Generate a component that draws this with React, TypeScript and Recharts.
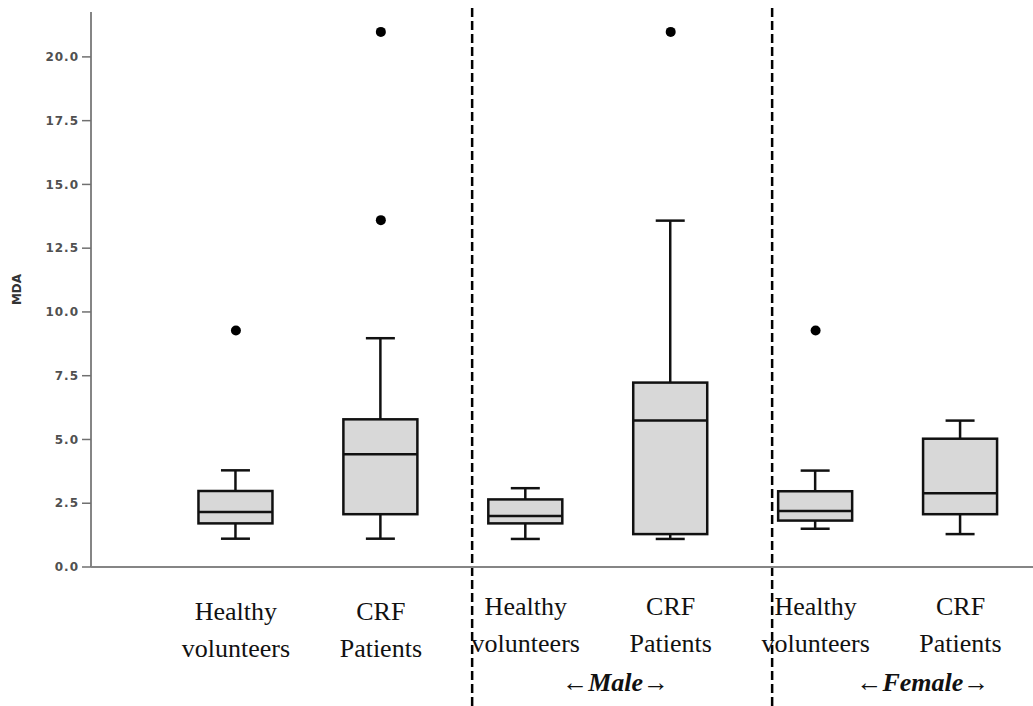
import React from "react";
import {
  ComposedChart,
  Bar,
  Scatter,
  XAxis,
  YAxis,
  ReferenceLine,
} from "recharts";

// box plot values (MDA)
const categories = [
  ["Healthy", "volunteers"],
  ["CRF", "Patients"],
  ["Healthy", "volunteers"],
  ["CRF", "Patients"],
  ["Healthy", "volunteers"],
  ["CRF", "Patients"],
];
const positions = [1, 2, 3, 4, 5, 6];
const whiskerLow = [1.11, 1.11, 1.1, 1.1, 1.5, 1.29];
const q1 = [1.71, 2.07, 1.71, 1.29, 1.82, 2.07];
const median = [2.16, 4.42, 2.0, 5.74, 2.2, 2.89];
const q3 = [2.98, 5.79, 2.65, 7.23, 2.97, 5.03];
const whiskerHigh = [3.79, 8.97, 3.09, 13.58, 3.78, 5.74];

const outlierPos = [1, 2, 2, 4, 5];
const outlierValue = [9.27, 20.98, 13.6, 20.98, 9.27];

const separators = [2.63, 4.7];
const groupNames = ["Male", "Female"];
const groupLabelPos = [3.62, 5.74];

const yTicks = [0, 2.5, 5, 7.5, 10, 12.5, 15, 17.5, 20];

const boxData = positions.map((pos, i) => ({
  pos,
  range: [whiskerLow[i], whiskerHigh[i]],
  q1: q1[i],
  median: median[i],
  q3: q3[i],
}));

const outliers = outlierPos.map((pos, i) => ({ pos, v: outlierValue[i] }));

const SERIF = "'Liberation Serif', 'Times New Roman', serif";

function BoxShape(props: any) {
  const { x, y, width, height, payload } = props;
  const [lo, hi] = payload.range;
  const toY = (v: number) => y + (height * (hi - v)) / (hi - lo);
  const cx = x + width / 2;
  const cap = 29;
  const yQ1 = toY(payload.q1);
  const yQ3 = toY(payload.q3);
  const yMed = toY(payload.median);
  return (
    <g stroke="#111" strokeWidth={2.5}>
      <line x1={cx} x2={cx} y1={y} y2={yQ3} />
      <line x1={cx} x2={cx} y1={yQ1} y2={y + height} />
      <line x1={cx - cap / 2} x2={cx + cap / 2} y1={y} y2={y} />
      <line x1={cx - cap / 2} x2={cx + cap / 2} y1={y + height} y2={y + height} />
      <rect x={x} y={yQ3} width={width} height={yQ1 - yQ3} fill="#d8d8d8" />
      <line x1={x} x2={x + width} y1={yMed} y2={yMed} />
    </g>
  );
}

function CategoryTick(props: any) {
  const { x, y, payload } = props;
  const v = payload.value;
  const i = positions.indexOf(v);
  if (i >= 0) {
    const dy = i < 2 ? 5 : 0;
    return (
      <text textAnchor="middle" fontFamily={SERIF} fontSize={26} fill="#111">
        <tspan x={x} y={y + 48 + dy}>{categories[i][0]}</tspan>
        <tspan x={x} y={y + 85 + dy}>{categories[i][1]}</tspan>
      </text>
    );
  }
  const g = groupLabelPos.indexOf(v);
  if (g >= 0) {
    return (
      <text x={x} y={y + 124} textAnchor="middle" fontFamily={SERIF} fontSize={26} fill="#111">
        ←<tspan fontWeight="bold" fontStyle="italic">{groupNames[g]}</tspan>→
      </text>
    );
  }
  return null;
}

function SeparatorLine(props: any) {
  const { x1, y1, y2 } = props;
  const top = Math.min(y1, y2);
  const bottom = Math.max(y1, y2);
  return (
    <line
      x1={x1}
      x2={x1}
      y1={top - 4}
      y2={bottom + 140}
      stroke="#000"
      strokeWidth={2.5}
      strokeDasharray="9 4"
    />
  );
}

export default function App() {
  return (
    <div style={{ position: "absolute", left: 0, top: 0, background: "#fff" }}>
      <ComposedChart
        width={1033}
        height={706}
        data={boxData}
        margin={{ top: 12, right: 0, bottom: 109, left: 0 }}
      >
        <XAxis
          type="number"
          dataKey="pos"
          domain={[0, 6.5]}
          ticks={[...positions, ...groupLabelPos]}
          tick={<CategoryTick />}
          tickLine={false}
          tickSize={0}
          tickMargin={0}
          height={30}
          axisLine={{ stroke: "#858585", strokeWidth: 2 }}
          interval={0}
          allowDataOverflow
        />
        <YAxis
          type="number"
          domain={[0, 21.76]}
          ticks={yTicks}
          width={91}
          tickSize={9}
          tickMargin={3}
          tickFormatter={(v: number) => v.toFixed(1)}
          tick={{
            fill: "#505050",
            fontSize: 12,
            fontWeight: "bold",
            fontFamily: "'DejaVu Sans', sans-serif",
            letterSpacing: 1,
          }}
          tickLine={{ stroke: "#707070", strokeWidth: 1.5 }}
          axisLine={{ stroke: "#858585", strokeWidth: 2 }}
          allowDataOverflow
          label={({ viewBox }: any) => (
            <text
              x={viewBox.x + 17}
              y={viewBox.y + viewBox.height / 2}
              transform={`rotate(-90, ${viewBox.x + 17}, ${viewBox.y + viewBox.height / 2})`}
              textAnchor="middle"
              dominantBaseline="middle"
              fontFamily="'DejaVu Sans', sans-serif"
              fontWeight="bold"
              fontSize={12}
              fill="#333"
            >
              MDA
            </text>
          )}
        />
        {separators.map((s) => (
          <ReferenceLine key={s} x={s} shape={<SeparatorLine />} />
        ))}
        <Bar
          dataKey="range"
          barSize={74}
          shape={<BoxShape />}
          isAnimationActive={false}
        />
        <Scatter
          data={outliers}
          dataKey="v"
          isAnimationActive={false}
          shape={(p: any) => <circle cx={p.cx} cy={p.cy} r={5} fill="#000" />}
        />
      </ComposedChart>
    </div>
  );
}
